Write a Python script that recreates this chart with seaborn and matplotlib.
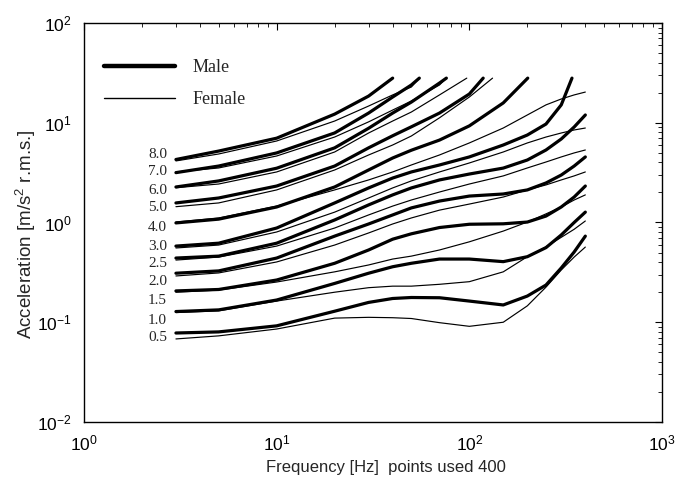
import numpy as np
import pandas as pd
import matplotlib
matplotlib.use("Agg")
import matplotlib.pyplot as plt
import seaborn as sns
from matplotlib.lines import Line2D

# frequency grid the curves were read at (Hz)
FREQ = [3, 5, 10, 20, 30, 40, 50, 70, 100, 150, 200, 250, 300, 350, 400]
TOP = 28  # upper curves stop here (m/s2)

levels = ["0.5", "1.0", "1.5", "2.0", "2.5", "3.0", "4.0", "5.0", "6.0", "7.0", "8.0"]

# male contours (thick lines)
male_05 = [0.078, 0.080, 0.092, 0.129, 0.158, 0.173, 0.177, 0.176, 0.163, 0.149, 0.183, 0.236, 0.35, 0.506, 0.73]
male_10 = [0.128, 0.133, 0.167, 0.245, 0.31, 0.36, 0.39, 0.43, 0.43, 0.405, 0.454, 0.56, 0.75, 1.0, 1.27]
male_15 = [0.206, 0.213, 0.265, 0.39, 0.53, 0.68, 0.77, 0.89, 0.96, 0.97, 1.01, 1.16, 1.43, 1.80, 2.32]
male_20 = [0.31, 0.327, 0.44, 0.73, 0.966, 1.19, 1.40, 1.64, 1.84, 1.93, 2.12, 2.49, 2.99, 3.68, 4.54]
male_25 = [0.44, 0.46, 0.62, 1.06, 1.50, 1.89, 2.22, 2.67, 3.06, 3.51, 4.23, 5.33, 6.87, 9.06, 11.96]
male_30 = [0.58, 0.62, 0.88, 1.57, 2.22, 2.79, 3.21, 3.77, 4.54, 5.98, 7.53, 9.7, 15.1]
male_40 = [0.99, 1.08, 1.43, 2.27, 3.36, 4.43, 5.3, 6.7, 9.3, 15.8]
male_50 = [1.57, 1.76, 2.32, 3.68, 5.6, 7.4, 9.1, 12.5, 19.4]
male_60 = [2.27, 2.61, 3.5, 5.6, 8.8, 12.5, 16.1, 25.0]
male_70 = [3.16, 3.68, 4.98, 7.9, 12.5, 18.1, 23.9]
male_80 = [4.28, 5.2, 7.0, 12.2, 18.5]
male_end_hz = [None, None, None, None, None, 341, 201, 118, 76, 55, 40]

# female contours (thin lines)
female_05 = [0.068, 0.073, 0.0855, 0.110, 0.112, 0.111, 0.109, 0.099, 0.091, 0.100, 0.146, 0.225, 0.334, 0.45, 0.567]
female_10 = [0.125, 0.13, 0.163, 0.20, 0.222, 0.23, 0.23, 0.24, 0.255, 0.32, 0.454, 0.57, 0.71, 0.855, 1.035]
female_15 = [0.20, 0.21, 0.253, 0.32, 0.375, 0.43, 0.46, 0.53, 0.64, 0.82, 1.01, 1.22, 1.43, 1.68, 1.89]
female_20 = [0.291, 0.312, 0.402, 0.594, 0.785, 0.966, 1.11, 1.33, 1.53, 1.80, 2.12, 2.38, 2.67, 2.93, 3.21]
female_25 = [0.42, 0.45, 0.58, 0.88, 1.19, 1.46, 1.68, 2.02, 2.43, 2.93, 3.52, 4.04, 4.54, 4.98, 5.33]
female_30 = [0.555, 0.594, 0.803, 1.27, 1.76, 2.22, 2.61, 3.21, 3.95, 5.09, 6.27, 7.19, 7.89, 8.46, 8.85]
female_40 = [1.01, 1.11, 1.46, 2.12, 2.67, 3.21, 3.77, 4.75, 6.27, 8.85, 11.96, 15.1, 17.3, 19.0, 20.3]
female_50 = [1.44, 1.57, 2.12, 3.36, 4.75, 5.98, 7.36, 11.2, 18.1]
female_60 = [2.23, 2.43, 3.21, 5.09, 7.89, 10.4, 12.8, 19.0]
female_70 = [3.21, 3.52, 4.64, 7.19, 10.2, 13.4, 16.5, 23.9]
female_80 = [4.14, 4.86, 6.56, 10.4, 14.7, 19.0, 22.8]
female_end_hz = [None, None, None, None, None, None, None, 132, 97, 76, 55]

# level labels on the left
label_y = [0.0695, 0.105, 0.167, 0.254, 0.39, 0.57, 0.90, 1.40, 2.07, 3.21, 4.75]
label_x = 2.7

male_curves = [male_05, male_10, male_15, male_20, male_25, male_30, male_40, male_50, male_60, male_70, male_80]
female_curves = [female_05, female_10, female_15, female_20, female_25, female_30, female_40, female_50, female_60, female_70, female_80]

rows = []
for sex, curves, ends in [("Male", male_curves, male_end_hz), ("Female", female_curves, female_end_hz)]:
    for lvl, vals, end in zip(levels, curves, ends):
        fr = FREQ[:len(vals)]
        vv = list(vals)
        if end is not None:
            fr = fr + [end]
            vv = vv + [TOP]
        for f, v in zip(fr, vv):
            rows.append({"freq": f, "accel": v, "sex": sex, "curve": sex + lvl})
df = pd.DataFrame(rows)

sns.set_style("white")
plt.rcParams['font.family'] = ['Liberation Sans', 'DejaVu Sans']
plt.rcParams['mathtext.fontset'] = 'custom'
plt.rcParams['mathtext.rm'] = 'Liberation Sans'
plt.rcParams['mathtext.default'] = 'regular'

fig = plt.figure(figsize=(6.78, 4.92), dpi=100)
ax = fig.add_axes([0.1239, 0.1423, 0.8525, 0.811])

sns.lineplot(data=df, x="freq", y="accel", units="curve", estimator=None,
             size="sex", sizes={"Male": 2.3, "Female": 0.85}, color="black",
             sort=True, legend=False, ax=ax)

ax.set_xscale("log")
ax.set_yscale("log")
ax.set_xlim(1, 1000)
ax.set_ylim(0.01, 100)

for s in ax.spines.values():
    s.set_visible(True)
    s.set_color("black")
    s.set_linewidth(1.0)
ax.tick_params(which="both", direction="in", top=True, right=True, colors="black")
ax.tick_params(which="major", length=5, labelsize=12.5)
ax.tick_params(axis="x", which="major", pad=8)
ax.tick_params(axis="y", which="major", pad=9)
ax.tick_params(which="minor", length=3)

for lvl, y in zip(levels, label_y):
    ax.text(label_x, y, lvl, ha="right", va="center", fontfamily="Liberation Serif", fontsize=11)

handles = [Line2D([], [], color="black", lw=3.2), Line2D([], [], color="black", lw=1.0)]
ax.legend(handles, ["Male", "Female"], loc="upper left", bbox_to_anchor=(0.035, 0.91),
          frameon=False, prop={"family": "Liberation Serif", "size": 13},
          handlelength=3.9, handletextpad=1.0, labelspacing=0.85,
          borderaxespad=0, borderpad=0)

ax.set_xlabel("Frequency [Hz]  points used 400", fontsize=12)
ax.xaxis.set_label_coords(0.522, -0.095)
ax.set_ylabel("Acceleration [m/s$^2$ r.m.s.]", fontsize=13.5)
ax.yaxis.set_label_coords(-0.079, 0.47)

fig.savefig("out.png", dpi=100)
